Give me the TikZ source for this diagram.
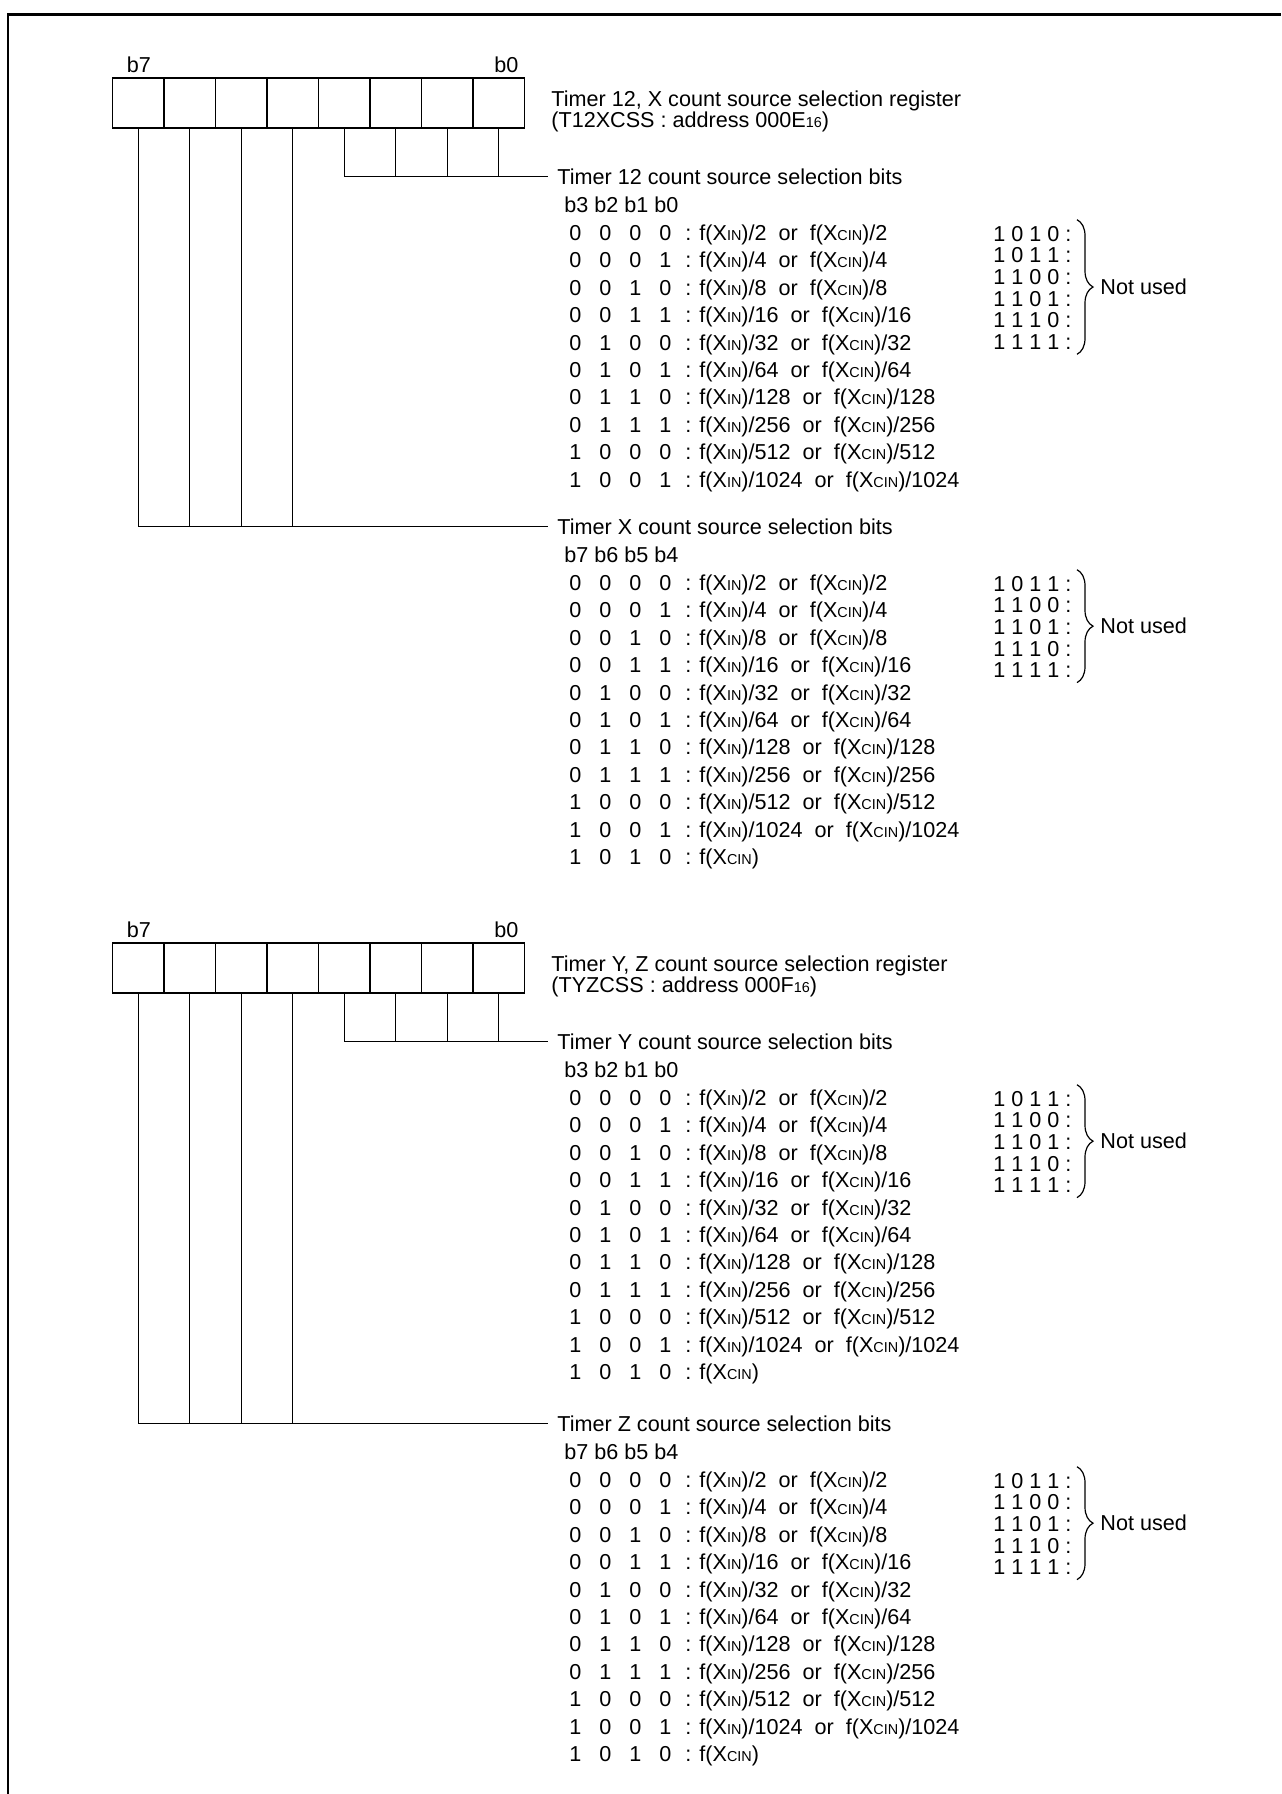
\documentclass[tikz,border=0pt]{standalone}
\usepackage{fontspec}
\setmainfont{Liberation Sans}
\usetikzlibrary{decorations.pathreplacing,calc}
\newcommand\sbs[1]{{\fontsize{7.2}{8}\selectfont #1}}
\newcommand\fx[1]{f(X\sbs{IN})/#1~~or~~f(X\sbs{CIN})/#1}
\newcommand\digs[4]{\makebox[15pt][l]{#1}\makebox[15pt][l]{#2}\makebox[15pt][l]{#3}\makebox[13pt][l]{#4}}
\tikzset{
 txt/.style={anchor=base west, inner sep=0pt, font=\fontsize{10.8}{13}\selectfont},
 cell/.style={draw, line width=0.6pt, minimum width=25.75pt, minimum height=25pt, inner sep=0pt},
 wire/.style={line width=0.6pt},
 frameline/.style={line width=1.35pt},
 nubrace/.style={decorate, decoration={brace, amplitude=8pt}, line width=0.6pt}
}
% register: #1 prefix, #2 dy, #3 line1, #4 line2
\newcommand\regbox[4]{%
 \foreach \ci in {0,...,7} {\node[cell] (#1c\ci) at ({138.3+51.5*(7-\ci)},{103+#2}) {};}
 \node[txt] (#1b7) at (126.5,{72.7+#2}) {b7};
 \node[txt] (#1b0) at (494,{72.7+#2}) {b0};
 \node[txt] (#1t1) at (551,{106.5+#2}) {#3};
 \node[txt] (#1t2) at (551,{127+#2}) {#4};
}
% group: #1 prefix, #2 T (title baseline), #3 title, #4 header
\newcommand\tgroup[4]{%
 \node[txt] (#1t) at (557,#2) {#3};
 \node[txt] (#1h) at (564,{#2+28.5}) {#4};
 \foreach \pa/\pb/\pc/\pd/\pn [count=\rr from 0] in {0/0/0/0/2,0/0/0/1/4,0/0/1/0/8,0/0/1/1/16,0/1/0/0/32,0/1/0/1/64,0/1/1/0/128,0/1/1/1/256,1/0/0/0/512,1/0/0/1/1024}{%
  \node[txt] (#1r\rr) at (569,{#2+56+27.4*\rr}) {\digs{\pa}{\pb}{\pc}{\pd}: \fx{\pn}};
 }
 \coordinate (#1e) at ([xshift=-4.5pt]#1t.west);
}
% extra row 1010
\newcommand\xrow[2]{\node[txt] (#1r10) at (569,{#2+56+274}) {\digs{1}{0}{1}{0}: f(X\sbs{CIN})};}
% not used list: #1 prefix, #2 T, #3 list, #4 count-1
\newcommand\nulist[4]{%
 \foreach \s [count=\rr from 0] in {#3} {\node[txt] (#1n\rr) at (993,{#2+56.6+21.7*\rr}) {\s\ :};}
 \coordinate (#1bt) at (1077,{#2+35.3});
 \coordinate (#1bb) at (1077,{#2+56.6+21.7*#4-7.7+12.5});
 \draw[nubrace] (#1bt) -- (#1bb);
 \node[txt, anchor=west] (#1nu) at ([xshift=11.5pt]$(#1bt)!0.5!(#1bb)$) {Not used};
}
\begin{document}
\begin{tikzpicture}[x=0.5pt,y=-0.5pt]
\useasboundingbox (0,0) rectangle (1281,1794);
\draw[frameline] (8,1794) -- (8,14.7) -- (1281,14.7);

% ---------- section 1 ----------
\regbox{A}{0}{Timer 12, X count source selection register}{(T12XCSS : address 000E\sbs{16})}
\tgroup{AT}{184.4}{Timer 12 count source selection bits}{b3 b2 b1 b0}
\nulist{AT}{184.4}{1 0 1 0,1 0 1 1,1 1 0 0,1 1 0 1,1 1 1 0,1 1 1 1}{5}
\tgroup{AX}{534.4}{Timer X count source selection bits}{b7 b6 b5 b4}
\xrow{AX}{534.4}
\nulist{AX}{534.4}{1 0 1 1,1 1 0 0,1 1 0 1,1 1 1 0,1 1 1 1}{4}
\draw[wire] (Ac3.south) |- (ATe);
\foreach \ci in {2,1,0} \draw[wire] (Ac\ci.south) -- (Ac\ci.south |- ATe);
\draw[wire] (Ac7.south) |- (AXe);
\foreach \ci in {6,5,4} \draw[wire] (Ac\ci.south) -- (Ac\ci.south |- AXe);

% ---------- section 2 ----------
\regbox{B}{865}{Timer Y, Z count source selection register}{(TYZCSS : address 000F\sbs{16})}
\tgroup{BY}{1049.4}{Timer Y count source selection bits}{b3 b2 b1 b0}
\xrow{BY}{1049.4}
\nulist{BY}{1049.4}{1 0 1 1,1 1 0 0,1 1 0 1,1 1 1 0,1 1 1 1}{4}
\tgroup{BZ}{1431.4}{Timer Z count source selection bits}{b7 b6 b5 b4}
\xrow{BZ}{1431.4}
\nulist{BZ}{1431.4}{1 0 1 1,1 1 0 0,1 1 0 1,1 1 1 0,1 1 1 1}{4}
\draw[wire] (Bc3.south) |- (BYe);
\foreach \ci in {2,1,0} \draw[wire] (Bc\ci.south) -- (Bc\ci.south |- BYe);
\draw[wire] (Bc7.south) |- (BZe);
\foreach \ci in {6,5,4} \draw[wire] (Bc\ci.south) -- (Bc\ci.south |- BZe);
\end{tikzpicture}
\end{document}
